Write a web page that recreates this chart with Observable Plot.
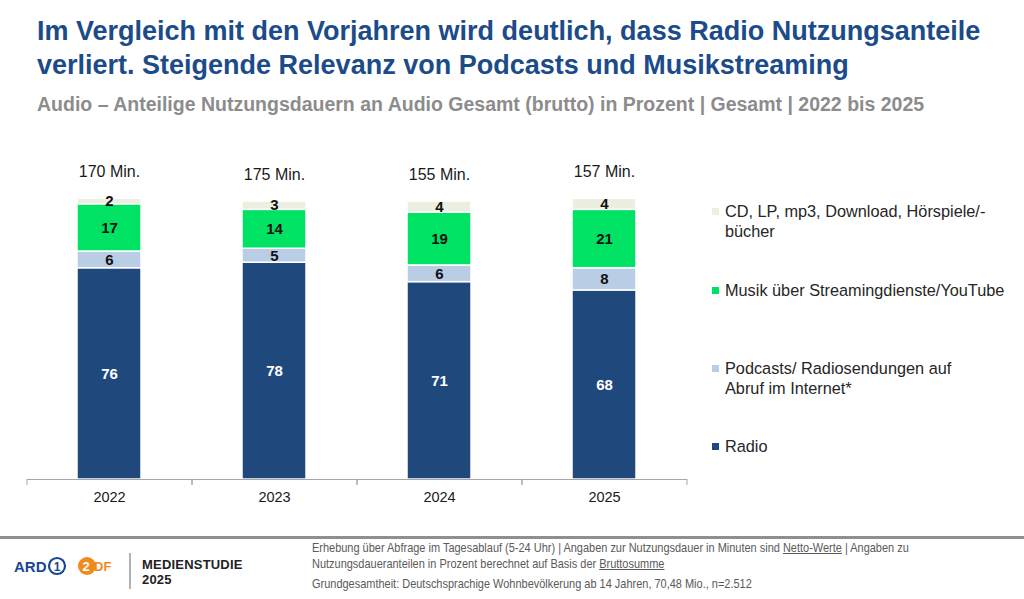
<!DOCTYPE html>
<html lang="de">
<head>
<meta charset="utf-8">
<script src="https://cdn.jsdelivr.net/npm/d3@7"></script>
<script src="https://cdn.jsdelivr.net/npm/@observablehq/plot@0.6"></script>
<style>
  html, body { margin: 0; padding: 0; background: #fff; }
  body { width: 1024px; height: 599px; position: relative; overflow: hidden; font-family: "Liberation Sans", Arial, sans-serif; }
  .title { position: absolute; left: 37px; top: 14px; font-weight: bold; font-size: 27px; line-height: 34px; color: #1c4b8a; white-space: nowrap; }
  .subtitle { position: absolute; left: 37px; top: 92px; font-weight: bold; font-size: 19.5px; line-height: 24px; color: #8c8c8c; white-space: nowrap; }
  #chart { position: absolute; left: 0; top: 140px; }
  .legend { position: absolute; left: 712px; font-size: 16.3px; line-height: 20px; color: #262626; }
  .legend .sw { position: absolute; left: 0; top: 7px; width: 7px; height: 7px; }
  .legend .lbl { margin-left: 13px; white-space: nowrap; }
  .rule { position: absolute; left: 0; top: 536px; width: 1024px; height: 3px; background: #8f8f8f; }
  .foot { position: absolute; left: 312px; font-size: 12.2px; line-height: 15px; color: #5a5a5a; white-space: nowrap; transform: scaleX(0.9); transform-origin: 0 0; }
  .foot u { text-decoration: underline; }
  .brand { position: absolute; left: 142px; top: 557px; font-weight: bold; font-size: 13px; line-height: 15px; color: #222; letter-spacing: 0.2px; }
</style>
</head>
<body>
<div class="title">Im Vergleich mit den Vorjahren wird deutlich, dass Radio Nutzungsanteile<br>verliert. Steigende Relevanz von Podcasts und Musikstreaming</div>
<div class="subtitle">Audio – Anteilige Nutzungsdauern an Audio Gesamt (brutto) in Prozent | Gesamt | 2022 bis 2025</div>
<div id="chart"></div>
<div id="legend"></div>

<div class="rule"></div>
<svg style="position:absolute;left:0;top:540px" width="140" height="59">
  <text x="14" y="31.5" font-family="Liberation Sans, Arial, sans-serif" font-weight="bold" font-size="15" fill="#1a4791">ARD</text>
  <circle cx="57" cy="26" r="8" fill="none" stroke="#1a4791" stroke-width="2.2"/>
  <text x="57" y="30.5" text-anchor="middle" font-family="Liberation Sans, Arial, sans-serif" font-weight="bold" font-size="12" fill="#1a4791">1</text>
  <circle cx="87" cy="26" r="9" fill="#f08a1c"/>
  <text x="82.5" y="31" font-family="Liberation Sans, Arial, sans-serif" font-weight="bold" font-size="13" fill="#fff">2</text>
  <text x="94" y="31" font-family="Liberation Sans, Arial, sans-serif" font-weight="bold" font-size="13" fill="#f08a1c">DF</text>
  <line x1="130" y1="13" x2="130" y2="49" stroke="#999" stroke-width="1.5"/>
</svg>
<div class="brand">MEDIENSTUDIE<br>2025</div>
<div class="foot" style="top:541px">Erhebung über Abfrage im Tagesablauf (5-24 Uhr) | Angaben zur Nutzungsdauer in Minuten sind <u>Netto-Werte</u> | Angaben zu</div>
<div class="foot" style="top:557px">Nutzungsdaueranteilen in Prozent berechnet auf Basis der <u>Bruttosumme</u></div>
<div class="foot" style="top:577px">Grundgesamtheit: Deutschsprachige Wohnbevölkerung ab 14 Jahren, 70,48 Mio., n=2.512</div>

<script>
// Survey years and total audio usage per day
const years = ["2022", "2023", "2024", "2025"];
const totals = ["170 Min.", "175 Min.", "155 Min.", "157 Min."];

// Share of total audio usage per category, in percent (stack order bottom → top)
const series = [
  "Radio",
  "Podcasts/ Radiosendungen auf Abruf im Internet*",
  "Musik über Streamingdienste/YouTube",
  "CD, LP, mp3, Download, Hörspiele/-bücher"
];
const radio    = [76, 78, 71, 68];
const podcasts = [6, 5, 6, 8];
const music    = [17, 14, 19, 21];
const cd       = [2, 3, 4, 4];

const colors = ["#1f497d", "#b9cde5", "#00e264", "#eceee0"];
const labelColors = ["#ffffff", "#111111", "#111111", "#111111"];

// Long-format table for the stacked bars
const values = [radio, podcasts, music, cd];
const rows = [];
series.forEach((s, si) => {
  years.forEach((y, yi) => rows.push({year: y, series: s, value: values[si][yi], si}));
});
const tops = years.map((y, yi) => ({year: y, total: totals[yi], top: d3.sum(values, v => v[yi])}));

const step = 165;
const plot = Plot.plot({
  width: 700,
  height: 369,
  marginLeft: 27,
  marginRight: 13,
  marginTop: 61,
  marginBottom: 30,
  x: {domain: years, paddingInner: 0.612, paddingOuter: 0.306, label: null},
  y: {domain: [0, 100], axis: null},
  color: {domain: series, range: colors},
  style: {fontFamily: "Liberation Sans, Arial, sans-serif", overflow: "visible"},
  marks: [
    Plot.barY(rows, {x: "year", y: "value", fill: "series", order: series, stroke: "white", strokeWidth: 1.5}),
    Plot.text(rows, Plot.stackY({
      x: "year", y: "value", z: "series", order: series,
      text: d => String(d.value),
      fill: d => labelColors[d.si],
      fontWeight: "bold", fontSize: 15
    })),
    Plot.text(tops, {x: "year", y: "top", text: "total", dy: -27, fontSize: 16, fill: "#1a1a1a"}),
    Plot.ruleY([0], {stroke: "#a6a6a6", strokeWidth: 1.2}),
    // boundary ticks between categories
    Plot.axisX({tickSize: 6, tickFormat: () => "", dx: -step / 2, stroke: "#a6a6a6"}),
    Plot.axisX({tickSize: 6, tickFormat: () => "", dx: step / 2, stroke: "#a6a6a6"}),
    Plot.axisX({tickSize: 0, tickPadding: 12, fontSize: 14.5, fill: "#1a1a1a", label: null})
  ]
});
document.getElementById("chart").appendChild(plot);

// Legend, listed in the order of the stack from top to bottom
const legendTops = [201, 280, 358, 436];
const legend = document.getElementById("legend");
const legendText = [
  "CD, LP, mp3, Download, Hörspiele/-<br>bücher",
  "Musik über Streamingdienste/YouTube",
  "Podcasts/ Radiosendungen auf<br>Abruf im Internet*",
  "Radio"
];
[3, 2, 1, 0].forEach((si, k) => {
  const item = document.createElement("div");
  item.className = "legend";
  item.style.top = legendTops[k] + "px";
  item.innerHTML = `<span class="sw" style="background:${colors[si]}"></span><div class="lbl">${legendText[k]}</div>`;
  legend.appendChild(item);
});
</script>
</body>
</html>
